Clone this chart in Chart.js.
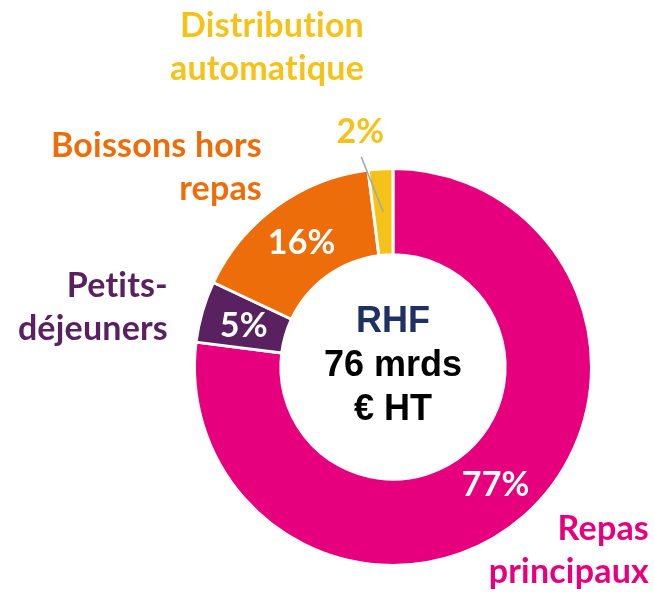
<!DOCTYPE html>
<html>
<head>
<meta charset="utf-8">
<script src="https://cdn.jsdelivr.net/npm/chart.js@4/dist/chart.umd.min.js"></script>
<style>
  html, body { margin: 0; padding: 0; background: #fff; }
  #wrap { width: 654px; height: 592px; }
</style>
</head>
<body>
<div id="wrap"><canvas id="chartRHF" width="654" height="592"></canvas></div>
<script>
// segments, clockwise from 12 o'clock
const categories = ['Repas principaux', 'Petits-déjeuners', 'Boissons hors repas', 'Distribution automatique'];
const shares = [77, 5, 16, 2];
const pctLabels = ['77%', '5%', '16%', '2%'];
const nameLines = [['Repas', 'principaux'], ['Petits-', 'déjeuners'], ['Boissons hors', 'repas'], ['Distribution', 'automatique']];
const centerLines = ['RHF', '76 mrds', '€ HT'];

const colors = ['#E6007E', '#5A2161', '#ED6D0B', '#F5C219'];

// where the category names sit (right edge x, baseline of first line)
const namePos = [
    { x: 649, y: 540 },
    { x: 168, y: 297 },
    { x: 262, y: 157 },
    { x: 364, y: 37 }
];

const labelsPlugin = {
    id: 'labelsPlugin',
    afterDatasetsDraw(chart) {
        const ctx = chart.ctx;
        const arcs = chart.getDatasetMeta(0).data;
        ctx.save();
        ctx.letterSpacing = '0.2px'; // no "ti" ligature
        ctx.textAlign = 'center';
        ctx.textBaseline = 'middle';
        ctx.font = 'bold 34px Lato';
        arcs.forEach((arc, i) => {
            if (i == 3) return;
            const p = arc.tooltipPosition();
            ctx.fillStyle = '#fff';
            ctx.fillText(pctLabels[i], p.x, p.y + 2);
        });

        // small slice: label outside with a leader line
        const a = arcs[3];
        const mid = (a.startAngle + a.endAngle) / 2;
        const r1 = (a.innerRadius + a.outerRadius) / 2;
        const r2 = a.outerRadius + 14;
        ctx.strokeStyle = '#A6A6A6';
        ctx.lineWidth = 1.5;
        ctx.beginPath();
        ctx.moveTo(a.x + Math.cos(mid) * r1, a.y + Math.sin(mid) * r1);
        ctx.lineTo(a.x + Math.cos(mid - 0.087) * r2, a.y + Math.sin(mid - 0.087) * r2);
        ctx.stroke();
        ctx.fillStyle = colors[3];
        ctx.fillText(pctLabels[3], a.x + Math.cos(mid - 0.075) * (r2 + 25), a.y + Math.sin(mid - 0.075) * (r2 + 25));

        // category names
        ctx.textAlign = 'right';
        ctx.textBaseline = 'alphabetic';
        nameLines.forEach((lines, i) => {
            ctx.fillStyle = colors[i];
            lines.forEach((t, k) => {
                ctx.fillText(t, namePos[i].x, namePos[i].y + k * 43);
            });
        });

        // centre text
        ctx.letterSpacing = '0px';
        ctx.textAlign = 'center';
        ctx.textBaseline = 'middle';
        ctx.font = 'bold 36px "Liberation Sans"';
        const cx = arcs[0].x, cy = arcs[0].y;
        centerLines.forEach((t, k) => {
            ctx.fillStyle = k == 0 ? '#1F3063' : '#000';
            ctx.fillText(t, cx, cy - 45 + k * 44);
        });
        ctx.restore();
    }
};

new Chart('chartRHF', {
    type: 'doughnut',
    data: {
        labels: categories,
        datasets: [{
            data: shares,
            backgroundColor: colors,
            borderColor: '#fff',
            borderWidth: 3
        }]
    },
    options: {
        responsive: false,
        animation: false,
        cutout: '56.5%',
        layout: { padding: { left: 193, right: 61, top: 167, bottom: 25 } },
        plugins: {
            legend: { display: false },
            tooltip: { enabled: false }
        }
    },
    plugins: [labelsPlugin]
});
</script>
</body>
</html>
